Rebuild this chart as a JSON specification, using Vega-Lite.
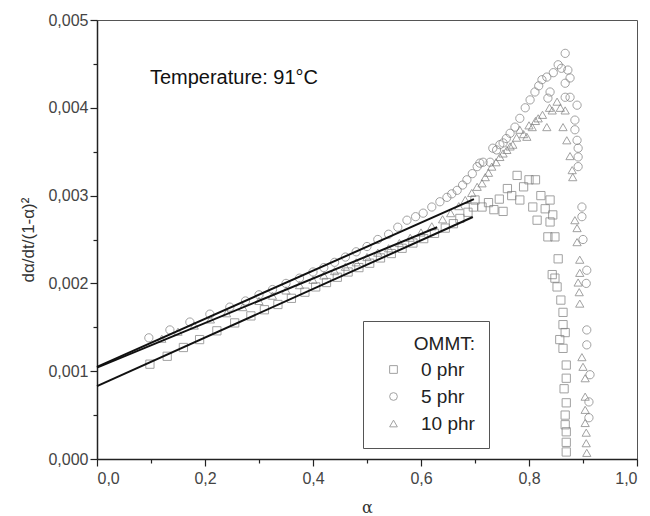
{
  "$schema": "https://vega.github.io/schema/vega-lite/v6.json",
  "width": 540,
  "height": 439,
  "autosize": {"type": "none"},
  "padding": {"left": 97, "top": 20, "right": 13, "bottom": 57},
  "background": "white",
  "config": {
    "font": "Liberation Sans",
    "view": {"stroke": "#555", "strokeWidth": 1}
  },
  "datasets": {
    "pts": [
      {"alpha": 0.098, "rate": 0.00108, "series": "0 phr"},
      {"alpha": 0.130, "rate": 0.00117, "series": "0 phr"},
      {"alpha": 0.160, "rate": 0.00127, "series": "0 phr"},
      {"alpha": 0.190, "rate": 0.00136, "series": "0 phr"},
      {"alpha": 0.222, "rate": 0.00146, "series": "0 phr"},
      {"alpha": 0.255, "rate": 0.00155, "series": "0 phr"},
      {"alpha": 0.285, "rate": 0.00163, "series": "0 phr"},
      {"alpha": 0.310, "rate": 0.00170, "series": "0 phr"},
      {"alpha": 0.335, "rate": 0.00176, "series": "0 phr"},
      {"alpha": 0.360, "rate": 0.00183, "series": "0 phr"},
      {"alpha": 0.385, "rate": 0.00190, "series": "0 phr"},
      {"alpha": 0.405, "rate": 0.00196, "series": "0 phr"},
      {"alpha": 0.425, "rate": 0.00201, "series": "0 phr"},
      {"alpha": 0.445, "rate": 0.00207, "series": "0 phr"},
      {"alpha": 0.465, "rate": 0.00213, "series": "0 phr"},
      {"alpha": 0.485, "rate": 0.00218, "series": "0 phr"},
      {"alpha": 0.505, "rate": 0.00223, "series": "0 phr"},
      {"alpha": 0.525, "rate": 0.00229, "series": "0 phr"},
      {"alpha": 0.545, "rate": 0.00234, "series": "0 phr"},
      {"alpha": 0.565, "rate": 0.00240, "series": "0 phr"},
      {"alpha": 0.585, "rate": 0.00246, "series": "0 phr"},
      {"alpha": 0.605, "rate": 0.00251, "series": "0 phr"},
      {"alpha": 0.625, "rate": 0.00257, "series": "0 phr"},
      {"alpha": 0.645, "rate": 0.00263, "series": "0 phr"},
      {"alpha": 0.660, "rate": 0.00268, "series": "0 phr"},
      {"alpha": 0.672, "rate": 0.00274, "series": "0 phr"},
      {"alpha": 0.687, "rate": 0.00281, "series": "0 phr"},
      {"alpha": 0.697, "rate": 0.00287, "series": "0 phr"},
      {"alpha": 0.700, "rate": 0.00295, "series": "0 phr"},
      {"alpha": 0.713, "rate": 0.00287, "series": "0 phr"},
      {"alpha": 0.725, "rate": 0.00292, "series": "0 phr"},
      {"alpha": 0.735, "rate": 0.00284, "series": "0 phr"},
      {"alpha": 0.745, "rate": 0.00296, "series": "0 phr"},
      {"alpha": 0.752, "rate": 0.00282, "series": "0 phr"},
      {"alpha": 0.760, "rate": 0.00308, "series": "0 phr"},
      {"alpha": 0.768, "rate": 0.00300, "series": "0 phr"},
      {"alpha": 0.778, "rate": 0.00323, "series": "0 phr"},
      {"alpha": 0.783, "rate": 0.00295, "series": "0 phr"},
      {"alpha": 0.790, "rate": 0.00310, "series": "0 phr"},
      {"alpha": 0.800, "rate": 0.00318, "series": "0 phr"},
      {"alpha": 0.807, "rate": 0.00287, "series": "0 phr"},
      {"alpha": 0.812, "rate": 0.00318, "series": "0 phr"},
      {"alpha": 0.815, "rate": 0.00272, "series": "0 phr"},
      {"alpha": 0.822, "rate": 0.00300, "series": "0 phr"},
      {"alpha": 0.830, "rate": 0.00285, "series": "0 phr"},
      {"alpha": 0.839, "rate": 0.00295, "series": "0 phr"},
      {"alpha": 0.839, "rate": 0.00270, "series": "0 phr"},
      {"alpha": 0.844, "rate": 0.00278, "series": "0 phr"},
      {"alpha": 0.835, "rate": 0.00253, "series": "0 phr"},
      {"alpha": 0.848, "rate": 0.00253, "series": "0 phr"},
      {"alpha": 0.854, "rate": 0.00228, "series": "0 phr"},
      {"alpha": 0.843, "rate": 0.00210, "series": "0 phr"},
      {"alpha": 0.848, "rate": 0.00206, "series": "0 phr"},
      {"alpha": 0.852, "rate": 0.00196, "series": "0 phr"},
      {"alpha": 0.859, "rate": 0.00181, "series": "0 phr"},
      {"alpha": 0.863, "rate": 0.00167, "series": "0 phr"},
      {"alpha": 0.867, "rate": 0.00144, "series": "0 phr"},
      {"alpha": 0.863, "rate": 0.00153, "series": "0 phr"},
      {"alpha": 0.857, "rate": 0.00136, "series": "0 phr"},
      {"alpha": 0.863, "rate": 0.00126, "series": "0 phr"},
      {"alpha": 0.869, "rate": 0.00107, "series": "0 phr"},
      {"alpha": 0.869, "rate": 0.00092, "series": "0 phr"},
      {"alpha": 0.865, "rate": 0.00080, "series": "0 phr"},
      {"alpha": 0.869, "rate": 0.00064, "series": "0 phr"},
      {"alpha": 0.867, "rate": 0.00050, "series": "0 phr"},
      {"alpha": 0.867, "rate": 0.00039, "series": "0 phr"},
      {"alpha": 0.869, "rate": 0.00031, "series": "0 phr"},
      {"alpha": 0.869, "rate": 0.00019, "series": "0 phr"},
      {"alpha": 0.869, "rate": 0.00008, "series": "0 phr"},

      {"alpha": 0.096, "rate": 0.00138, "series": "5 phr"},
      {"alpha": 0.135, "rate": 0.00147, "series": "5 phr"},
      {"alpha": 0.172, "rate": 0.00156, "series": "5 phr"},
      {"alpha": 0.209, "rate": 0.00165, "series": "5 phr"},
      {"alpha": 0.246, "rate": 0.00173, "series": "5 phr"},
      {"alpha": 0.275, "rate": 0.00180, "series": "5 phr"},
      {"alpha": 0.300, "rate": 0.00187, "series": "5 phr"},
      {"alpha": 0.325, "rate": 0.00193, "series": "5 phr"},
      {"alpha": 0.350, "rate": 0.00200, "series": "5 phr"},
      {"alpha": 0.375, "rate": 0.00206, "series": "5 phr"},
      {"alpha": 0.400, "rate": 0.00213, "series": "5 phr"},
      {"alpha": 0.420, "rate": 0.00218, "series": "5 phr"},
      {"alpha": 0.440, "rate": 0.00224, "series": "5 phr"},
      {"alpha": 0.460, "rate": 0.00230, "series": "5 phr"},
      {"alpha": 0.480, "rate": 0.00236, "series": "5 phr"},
      {"alpha": 0.500, "rate": 0.00242, "series": "5 phr"},
      {"alpha": 0.520, "rate": 0.00250, "series": "5 phr"},
      {"alpha": 0.540, "rate": 0.00256, "series": "5 phr"},
      {"alpha": 0.557, "rate": 0.00264, "series": "5 phr"},
      {"alpha": 0.574, "rate": 0.00272, "series": "5 phr"},
      {"alpha": 0.590, "rate": 0.00276, "series": "5 phr"},
      {"alpha": 0.604, "rate": 0.00280, "series": "5 phr"},
      {"alpha": 0.620, "rate": 0.00287, "series": "5 phr"},
      {"alpha": 0.635, "rate": 0.00293, "series": "5 phr"},
      {"alpha": 0.648, "rate": 0.00298, "series": "5 phr"},
      {"alpha": 0.657, "rate": 0.00302, "series": "5 phr"},
      {"alpha": 0.667, "rate": 0.00306, "series": "5 phr"},
      {"alpha": 0.677, "rate": 0.00312, "series": "5 phr"},
      {"alpha": 0.685, "rate": 0.00318, "series": "5 phr"},
      {"alpha": 0.695, "rate": 0.00325, "series": "5 phr"},
      {"alpha": 0.704, "rate": 0.00333, "series": "5 phr"},
      {"alpha": 0.709, "rate": 0.00337, "series": "5 phr"},
      {"alpha": 0.715, "rate": 0.00338, "series": "5 phr"},
      {"alpha": 0.728, "rate": 0.00338, "series": "5 phr"},
      {"alpha": 0.733, "rate": 0.00354, "series": "5 phr"},
      {"alpha": 0.740, "rate": 0.00352, "series": "5 phr"},
      {"alpha": 0.746, "rate": 0.00358, "series": "5 phr"},
      {"alpha": 0.752, "rate": 0.00360, "series": "5 phr"},
      {"alpha": 0.758, "rate": 0.00365, "series": "5 phr"},
      {"alpha": 0.765, "rate": 0.00371, "series": "5 phr"},
      {"alpha": 0.774, "rate": 0.00378, "series": "5 phr"},
      {"alpha": 0.783, "rate": 0.00388, "series": "5 phr"},
      {"alpha": 0.793, "rate": 0.00400, "series": "5 phr"},
      {"alpha": 0.802, "rate": 0.00409, "series": "5 phr"},
      {"alpha": 0.811, "rate": 0.00418, "series": "5 phr"},
      {"alpha": 0.818, "rate": 0.00425, "series": "5 phr"},
      {"alpha": 0.824, "rate": 0.00432, "series": "5 phr"},
      {"alpha": 0.833, "rate": 0.00435, "series": "5 phr"},
      {"alpha": 0.839, "rate": 0.00418, "series": "5 phr"},
      {"alpha": 0.835, "rate": 0.00411, "series": "5 phr"},
      {"alpha": 0.845, "rate": 0.00440, "series": "5 phr"},
      {"alpha": 0.854, "rate": 0.00449, "series": "5 phr"},
      {"alpha": 0.860, "rate": 0.00445, "series": "5 phr"},
      {"alpha": 0.867, "rate": 0.00462, "series": "5 phr"},
      {"alpha": 0.867, "rate": 0.00428, "series": "5 phr"},
      {"alpha": 0.867, "rate": 0.00412, "series": "5 phr"},
      {"alpha": 0.872, "rate": 0.00443, "series": "5 phr"},
      {"alpha": 0.876, "rate": 0.00434, "series": "5 phr"},
      {"alpha": 0.876, "rate": 0.00412, "series": "5 phr"},
      {"alpha": 0.889, "rate": 0.00403, "series": "5 phr"},
      {"alpha": 0.885, "rate": 0.00386, "series": "5 phr"},
      {"alpha": 0.885, "rate": 0.00375, "series": "5 phr"},
      {"alpha": 0.889, "rate": 0.00363, "series": "5 phr"},
      {"alpha": 0.891, "rate": 0.00354, "series": "5 phr"},
      {"alpha": 0.891, "rate": 0.00344, "series": "5 phr"},
      {"alpha": 0.891, "rate": 0.00333, "series": "5 phr"},
      {"alpha": 0.898, "rate": 0.00287, "series": "5 phr"},
      {"alpha": 0.898, "rate": 0.00276, "series": "5 phr"},
      {"alpha": 0.900, "rate": 0.00250, "series": "5 phr"},
      {"alpha": 0.907, "rate": 0.00215, "series": "5 phr"},
      {"alpha": 0.906, "rate": 0.00200, "series": "5 phr"},
      {"alpha": 0.907, "rate": 0.00147, "series": "5 phr"},
      {"alpha": 0.907, "rate": 0.00130, "series": "5 phr"},
      {"alpha": 0.913, "rate": 0.00096, "series": "5 phr"},
      {"alpha": 0.911, "rate": 0.00065, "series": "5 phr"},
      {"alpha": 0.911, "rate": 0.00047, "series": "5 phr"},

      {"alpha": 0.120, "rate": 0.00137, "series": "10 phr"},
      {"alpha": 0.150, "rate": 0.00145, "series": "10 phr"},
      {"alpha": 0.180, "rate": 0.00152, "series": "10 phr"},
      {"alpha": 0.210, "rate": 0.00159, "series": "10 phr"},
      {"alpha": 0.240, "rate": 0.00166, "series": "10 phr"},
      {"alpha": 0.270, "rate": 0.00173, "series": "10 phr"},
      {"alpha": 0.300, "rate": 0.00180, "series": "10 phr"},
      {"alpha": 0.325, "rate": 0.00186, "series": "10 phr"},
      {"alpha": 0.350, "rate": 0.00192, "series": "10 phr"},
      {"alpha": 0.375, "rate": 0.00198, "series": "10 phr"},
      {"alpha": 0.400, "rate": 0.00204, "series": "10 phr"},
      {"alpha": 0.420, "rate": 0.00209, "series": "10 phr"},
      {"alpha": 0.440, "rate": 0.00214, "series": "10 phr"},
      {"alpha": 0.460, "rate": 0.00219, "series": "10 phr"},
      {"alpha": 0.480, "rate": 0.00224, "series": "10 phr"},
      {"alpha": 0.500, "rate": 0.00230, "series": "10 phr"},
      {"alpha": 0.520, "rate": 0.00235, "series": "10 phr"},
      {"alpha": 0.540, "rate": 0.00240, "series": "10 phr"},
      {"alpha": 0.560, "rate": 0.00246, "series": "10 phr"},
      {"alpha": 0.580, "rate": 0.00252, "series": "10 phr"},
      {"alpha": 0.600, "rate": 0.00258, "series": "10 phr"},
      {"alpha": 0.620, "rate": 0.00265, "series": "10 phr"},
      {"alpha": 0.640, "rate": 0.00273, "series": "10 phr"},
      {"alpha": 0.655, "rate": 0.00280, "series": "10 phr"},
      {"alpha": 0.670, "rate": 0.00288, "series": "10 phr"},
      {"alpha": 0.682, "rate": 0.00295, "series": "10 phr"},
      {"alpha": 0.694, "rate": 0.00303, "series": "10 phr"},
      {"alpha": 0.704, "rate": 0.00310, "series": "10 phr"},
      {"alpha": 0.713, "rate": 0.00314, "series": "10 phr"},
      {"alpha": 0.719, "rate": 0.00321, "series": "10 phr"},
      {"alpha": 0.725, "rate": 0.00326, "series": "10 phr"},
      {"alpha": 0.731, "rate": 0.00333, "series": "10 phr"},
      {"alpha": 0.739, "rate": 0.00338, "series": "10 phr"},
      {"alpha": 0.746, "rate": 0.00344, "series": "10 phr"},
      {"alpha": 0.752, "rate": 0.00348, "series": "10 phr"},
      {"alpha": 0.759, "rate": 0.00352, "series": "10 phr"},
      {"alpha": 0.765, "rate": 0.00356, "series": "10 phr"},
      {"alpha": 0.770, "rate": 0.00358, "series": "10 phr"},
      {"alpha": 0.777, "rate": 0.00366, "series": "10 phr"},
      {"alpha": 0.783, "rate": 0.00375, "series": "10 phr"},
      {"alpha": 0.790, "rate": 0.00370, "series": "10 phr"},
      {"alpha": 0.796, "rate": 0.00367, "series": "10 phr"},
      {"alpha": 0.800, "rate": 0.00380, "series": "10 phr"},
      {"alpha": 0.806, "rate": 0.00378, "series": "10 phr"},
      {"alpha": 0.812, "rate": 0.00385, "series": "10 phr"},
      {"alpha": 0.817, "rate": 0.00388, "series": "10 phr"},
      {"alpha": 0.825, "rate": 0.00392, "series": "10 phr"},
      {"alpha": 0.833, "rate": 0.00378, "series": "10 phr"},
      {"alpha": 0.838, "rate": 0.00400, "series": "10 phr"},
      {"alpha": 0.843, "rate": 0.00397, "series": "10 phr"},
      {"alpha": 0.852, "rate": 0.00407, "series": "10 phr"},
      {"alpha": 0.858, "rate": 0.00400, "series": "10 phr"},
      {"alpha": 0.863, "rate": 0.00378, "series": "10 phr"},
      {"alpha": 0.867, "rate": 0.00397, "series": "10 phr"},
      {"alpha": 0.870, "rate": 0.00363, "series": "10 phr"},
      {"alpha": 0.876, "rate": 0.00345, "series": "10 phr"},
      {"alpha": 0.880, "rate": 0.00329, "series": "10 phr"},
      {"alpha": 0.881, "rate": 0.00321, "series": "10 phr"},
      {"alpha": 0.885, "rate": 0.00272, "series": "10 phr"},
      {"alpha": 0.889, "rate": 0.00263, "series": "10 phr"},
      {"alpha": 0.889, "rate": 0.00247, "series": "10 phr"},
      {"alpha": 0.894, "rate": 0.00227, "series": "10 phr"},
      {"alpha": 0.894, "rate": 0.00212, "series": "10 phr"},
      {"alpha": 0.891, "rate": 0.00201, "series": "10 phr"},
      {"alpha": 0.893, "rate": 0.00190, "series": "10 phr"},
      {"alpha": 0.894, "rate": 0.00177, "series": "10 phr"},
      {"alpha": 0.898, "rate": 0.00116, "series": "10 phr"},
      {"alpha": 0.900, "rate": 0.00105, "series": "10 phr"},
      {"alpha": 0.904, "rate": 0.00092, "series": "10 phr"},
      {"alpha": 0.904, "rate": 0.00071, "series": "10 phr"},
      {"alpha": 0.904, "rate": 0.00056, "series": "10 phr"},
      {"alpha": 0.904, "rate": 0.00041, "series": "10 phr"},
      {"alpha": 0.906, "rate": 0.00030, "series": "10 phr"},
      {"alpha": 0.906, "rate": 0.00018, "series": "10 phr"},
      {"alpha": 0.907, "rate": 0.00007, "series": "10 phr"}
    ],
    "fits": [
      {"fit": "0 phr", "alpha": 0.0, "rate": 0.00083},
      {"fit": "0 phr", "alpha": 0.696, "rate": 0.002756},
      {"fit": "5 phr", "alpha": 0.0, "rate": 0.00105},
      {"fit": "5 phr", "alpha": 0.698, "rate": 0.00296},
      {"fit": "10 phr", "alpha": 0.0, "rate": 0.00104},
      {"fit": "10 phr", "alpha": 0.63, "rate": 0.00264}
    ],
    "notes": [
      {"alpha": 0.098, "rate": 0.00434, "label": "Temperature: 91°C"}
    ]
  },
  "layer": [
    {
      "data": {"name": "pts"},
      "mark": {"type": "point", "filled": false, "stroke": "#7a7a7a", "strokeWidth": 1, "size": 68},
      "encoding": {
        "x": {
          "field": "alpha", "type": "quantitative",
          "scale": {"domain": [0, 1], "nice": false, "zero": false},
          "axis": {
            "orient": "bottom",
            "values": [0, 0.2, 0.4, 0.6, 0.8, 1.0],
            "labelExpr": "replace(format(datum.value, '.1f'), '.', ',')",
            "title": "α",
            "titleFont": "DejaVu Serif",
            "titleFontSize": 16,
            "titleFontWeight": "normal",
            "titleColor": "#333",
            "titlePadding": 13,
            "labelFontSize": 16,
            "labelColor": "#444",
            "labelPadding": 4,
            "tickSize": 7,
            "tickColor": "#222",
            "tickWidth": 1.2,
            "domainColor": "#222",
            "domainWidth": 1.5,
            "grid": false,
            "encode": {"ticks": {"update": {"y2": {"value": -7}}}}
          }
        },
        "y": {
          "field": "rate", "type": "quantitative",
          "scale": {"domain": [0, 0.005], "nice": false, "zero": false},
          "axis": {
            "orient": "left",
            "values": [0, 0.001, 0.002, 0.003, 0.004, 0.005],
            "labelExpr": "replace(format(datum.value, '.3f'), '.', ',')",
            "title": "dα/dt/(1-α)²",
            "titleFontSize": 17,
            "titleFontWeight": "normal",
            "titleColor": "#333",
            "titlePadding": 10,
            "labelFontSize": 16,
            "labelColor": "#444",
            "labelPadding": 2,
            "tickSize": 7,
            "tickColor": "#222",
            "tickWidth": 1.2,
            "domainColor": "#222",
            "domainWidth": 1.5,
            "grid": false,
            "encode": {"ticks": {"update": {"x2": {"value": 7}}}}
          }
        },
        "shape": {
          "field": "series", "type": "nominal",
          "scale": {"domain": ["0 phr", "5 phr", "10 phr"], "range": ["square", "circle", "triangle-up"]},
          "legend": {
            "orient": "none",
            "legendX": 266,
            "legendY": 301,
            "title": "OMMT:",
            "titleAnchor": "end",
            "titleFontSize": 19,
            "titleFontWeight": "normal",
            "titleColor": "#222",
            "titlePadding": 6,
            "labelFontSize": 19,
            "labelColor": "#222",
            "labelOffset": 18,
            "symbolOffset": 7,
            "symbolSize": 60,
            "symbolStrokeColor": "#7a7a7a",
            "symbolFillColor": "transparent",
            "symbolStrokeWidth": 1,
            "rowPadding": 7,
            "padding": 14,
            "strokeColor": "#555",
            "fillColor": "white"
          }
        }
      }
    },
    {
      "data": {"name": "fits"},
      "mark": {"type": "line", "color": "#111", "strokeWidth": 2},
      "encoding": {
        "x": {
          "field": "alpha", "type": "quantitative",
          "axis": {
            "orient": "bottom",
            "values": [0.1, 0.3, 0.5, 0.7, 0.9],
            "labels": false, "domain": false, "title": null, "grid": false,
            "tickSize": 4, "tickColor": "#222", "tickWidth": 1.2,
            "encode": {"ticks": {"update": {"y2": {"value": -4}}}}
          }
        },
        "y": {
          "field": "rate", "type": "quantitative",
          "axis": {
            "orient": "left",
            "values": [0.0005, 0.0015, 0.0025, 0.0035, 0.0045],
            "labels": false, "domain": false, "title": null, "grid": false,
            "tickSize": 4, "tickColor": "#222", "tickWidth": 1.2,
            "encode": {"ticks": {"update": {"x2": {"value": 4}}}}
          }
        },
        "detail": {"field": "fit", "type": "nominal"}
      }
    },
    {
      "data": {"name": "notes"},
      "mark": {"type": "text", "align": "left", "baseline": "middle", "fontSize": 20, "color": "#111"},
      "encoding": {
        "x": {"field": "alpha", "type": "quantitative", "axis": null},
        "y": {"field": "rate", "type": "quantitative", "axis": null},
        "text": {"field": "label"}
      }
    }
  ],
  "resolve": {"axis": {"x": "independent", "y": "independent"}}
}
